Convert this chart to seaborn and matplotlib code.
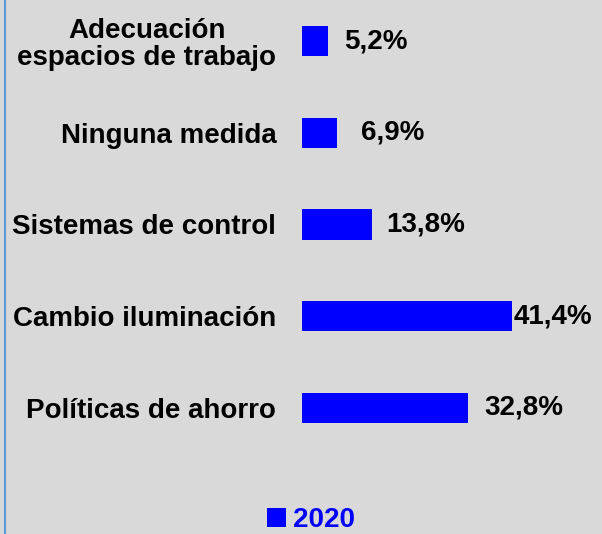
import matplotlib
matplotlib.use("Agg")
import matplotlib.pyplot as plt
import seaborn as sns
import pandas as pd
from matplotlib.lines import Line2D

categories = ["Adecuación\nespacios de trabajo", "Ninguna medida", "Sistemas de control",
              "Cambio iluminación", "Políticas de ahorro"]
values = [5.2, 6.9, 13.8, 41.4, 32.8]
value_labels = ["5,2%", "6,9%", "13,8%", "41,4%", "32,8%"]
series_name = "2020"

# label gaps (pixels) to the right of each bar end, as placed in the original
label_gaps_px = [16, 24, 14, 2, 16]

BLUE = "#0000FF"
BG = "#D9D9D9"
FS = 20

sns.set_theme(style="white")
plt.rcParams["font.family"] = ["Liberation Sans", "DejaVu Sans"]

df = pd.DataFrame({"cat": categories, "val": values, "serie": [series_name] * len(values)})

W, H = 602, 534
fig = plt.figure(figsize=(W / 100, H / 100), dpi=100, facecolor=BG)
ax = fig.add_axes([302 / W, 84 / H, 300 / W, 450 / H])
ax.set_facecolor(BG)

sns.barplot(data=df, y="cat", x="val", hue="serie", palette={series_name: BLUE},
            orient="h", width=0.33, dodge=False, ax=ax, saturation=1,
            linewidth=0, edgecolor=BLUE)

ax.set_xlim(0, 300 / 5.07)
ax.set_ylim(4.458, -0.447)
ax.set_xlabel("")
ax.set_ylabel("")
ax.set_xticks([])
for s in ax.spines.values():
    s.set_visible(False)
ax.tick_params(axis="y", length=0, pad=18.5)
for lab in ax.get_yticklabels():
    lab.set_fontsize(FS)
    lab.set_fontweight("bold")
    lab.set_color("black")
    lab.set_multialignment("center")
    lab.set_linespacing(1.05)

for i, (v, t, g) in enumerate(zip(values, value_labels, label_gaps_px)):
    ax.annotate(t, xy=(v, i), xytext=(g * 0.72, 0), textcoords="offset points",
                ha="left", va="center", fontsize=FS, fontweight="bold", color="black")

handles, labels = ax.get_legend_handles_labels()
if ax.get_legend() is not None:
    ax.get_legend().remove()
leg = fig.legend(handles, labels, loc="center", bbox_to_anchor=(311 / W, 1 - 520 / H),
                 frameon=False, handlelength=0.7, handleheight=0.7, handletextpad=0.25,
                 prop={"size": FS, "weight": "bold"})
for txt in leg.get_texts():
    txt.set_color(BLUE)

fig.add_artist(Line2D([4.5 / W, 4.5 / W], [0, 1], color="#5B9BD5", lw=1.5,
                      transform=fig.transFigure))

fig.savefig("out.png", dpi=100, facecolor=BG)
